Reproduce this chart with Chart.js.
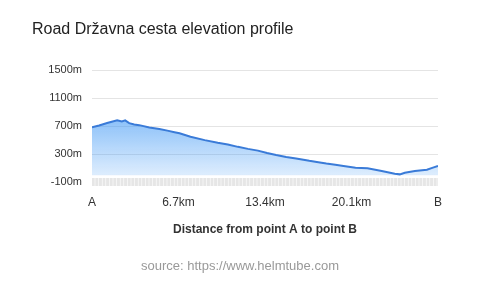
<!DOCTYPE html>
<html>
<head>
<meta charset="utf-8">
<script src="https://cdn.jsdelivr.net/npm/chart.js@4/dist/chart.umd.min.js"></script>
<style>
  html, body { margin: 0; padding: 0; background: #fff; }
  #wrap { position: relative; width: 480px; height: 287px; }
  #source { position: absolute; left: 0; width: 480px; top: 258px; text-align: center;
            font: 13px/15px "Liberation Sans", Arial, Helvetica, sans-serif; color: #999; }
</style>
</head>
<body>
<div id="wrap">
  <canvas id="c" width="480" height="287"></canvas>
  <div id="source">source: https://www.helmtube.com</div>
</div>
<script>
// Distance along the road (km)
const distanceKm = [0, 0.55, 1.17, 1.95, 2.31, 2.57, 2.88, 3.27, 3.66, 4.44, 5.22, 5.84, 6.39, 6.78,
  7.63, 8.73, 9.74, 10.52, 11.30, 12.08, 12.85, 13.56, 14.26, 15.04, 15.81, 16.83, 17.53, 18.15,
  18.85, 19.48, 20.41, 21.34, 22.44, 23.45, 23.84, 24.23, 25.01, 25.94, 26.41, 26.8];
// Elevation (m)
const elevationM = [685, 710, 745, 783, 768, 783, 744, 725, 715, 681, 661, 637, 615, 600,
  550, 501, 463, 438, 405, 376, 351, 317, 288, 260, 239, 205, 185, 166,
  150, 133, 108, 99, 60, 21, 12, 35, 60, 79, 108, 133];
// X axis tick positions and labels
const xTickValues = [0, 6.7, 13.4, 20.1, 26.8];
const xTickLabels = ['A', '6.7km', '13.4km', '20.1km', 'B'];
// Y axis ticks
const yTickValues = [-100, 300, 700, 1100, 1500];

const FONT = '"Liberation Sans", Arial, Helvetica, sans-serif';
Chart.defaults.font.family = FONT;
Chart.defaults.color = '#333';

const points = distanceKm.map((d, i) => ({ x: d, y: elevationM[i] }));

new Chart(document.getElementById('c'), {
  type: 'line',
  data: {
    datasets: [{
      data: points,
      borderColor: '#3a7bd8',
      borderWidth: 2,
      pointRadius: 0,
      tension: 0,
      fill: 'origin',
      backgroundColor: (ctx) => {
        const chart = ctx.chart;
        const area = chart.chartArea;
        if (!area) return 'rgba(60,150,245,0.4)';
        const g = chart.ctx.createLinearGradient(0, area.top, 0, area.bottom);
        g.addColorStop(0, 'rgba(60,150,245,0.95)');
        g.addColorStop(1, 'rgba(60,150,245,0.12)');
        return g;
      }
    }]
  },
  options: {
    responsive: false,
    animation: false,
    layout: { padding: { left: 32, right: 42, top: 10, bottom: 46 } },
    plugins: {
      legend: { display: false },
      tooltip: { enabled: false },
      title: {
        display: true,
        text: 'Road Državna cesta elevation profile',
        align: 'start',
        color: '#222',
        font: { size: 16, weight: 'normal' },
        padding: { top: 10, bottom: 31 }
      }
    },
    scales: {
      x: {
        type: 'linear',
        min: xTickValues[0],
        max: xTickValues[xTickValues.length - 1],
        afterBuildTicks: (scale) => { scale.ticks = xTickValues.map(v => ({ value: v })); },
        grid: { display: false, drawTicks: false },
        border: { display: false },
        ticks: {
          autoSkip: false,
          maxRotation: 0,
          padding: 13,
          color: '#333',
          font: { size: 12 },
          callback: (value, index) => xTickLabels[index]
        },
        title: {
          display: true,
          text: 'Distance from point A to point B',
          color: '#333',
          font: { size: 12, weight: 'bold' },
          padding: { top: 0, bottom: 4 }
        }
      },
      y: {
        min: yTickValues[0],
        max: yTickValues[yTickValues.length - 1],
        afterBuildTicks: (scale) => { scale.ticks = yTickValues.map(v => ({ value: v })); },
        afterFit: (scale) => { scale.width = 60; },
        grid: {
          drawTicks: false,
          color: (ctx) => (ctx.tick && ctx.tick.value === yTickValues[0]) ? '#e6e6e6' : '#e4e4e4',
          lineWidth: (ctx) => (ctx.tick && ctx.tick.value === yTickValues[0]) ? 8 : 1
        },
        border: {
          display: false,
          dash: (ctx) => (ctx.tick && ctx.tick.value === yTickValues[0]) ? [3, 0.6] : [],
          dashOffset: 0.3
        },
        ticks: {
          padding: 10,
          color: '#333',
          font: { size: 11 },
          callback: (value) => value + 'm'
        }
      }
    }
  }
});
</script>
</body>
</html>
